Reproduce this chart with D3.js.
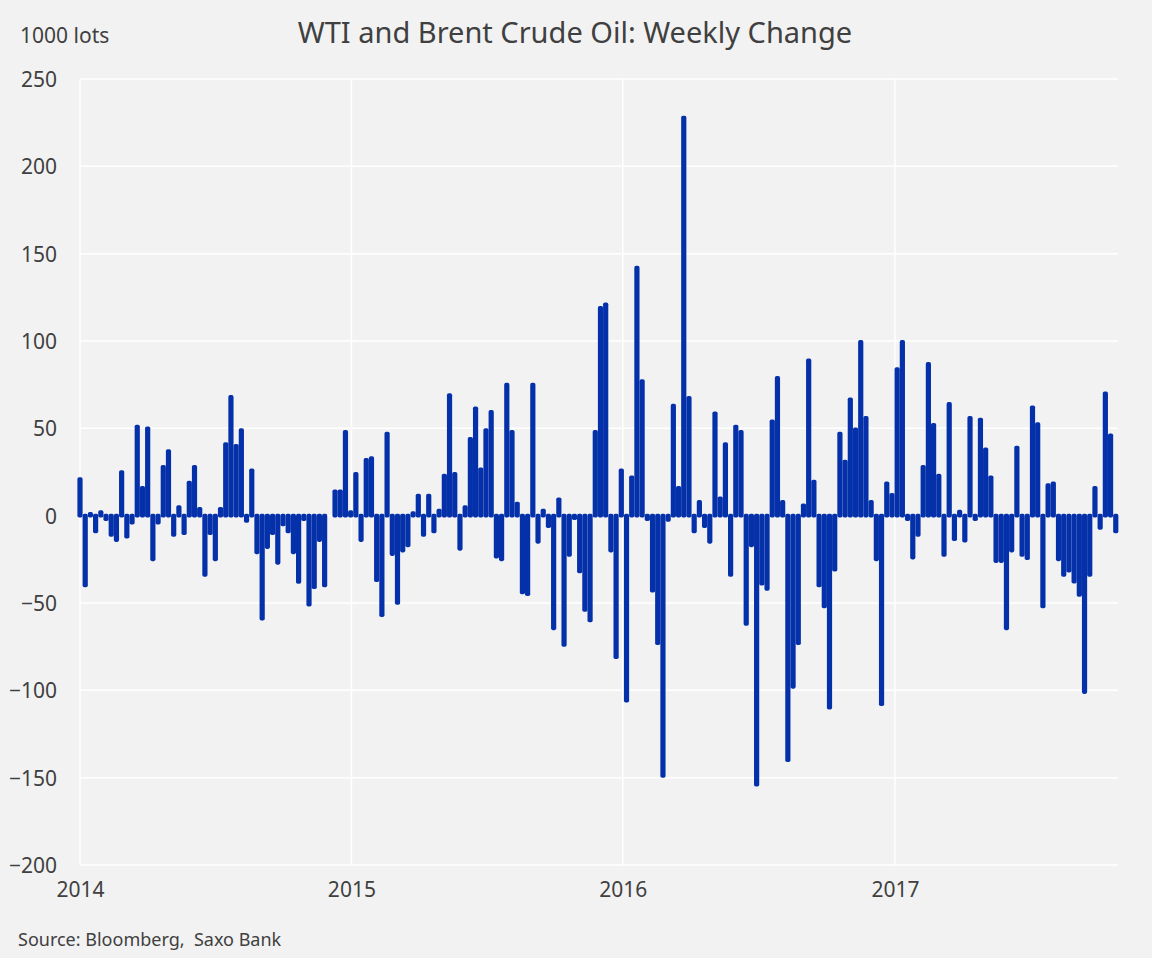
<!DOCTYPE html>
<html>
<head>
<meta charset="utf-8">
<script src="https://cdn.jsdelivr.net/npm/d3@7"></script>
<style>
  html, body { margin: 0; padding: 0; background: #f2f2f2; }
  svg { display: block; }
  text { font-family: "Noto Sans", "Open Sans", sans-serif; fill: #404040; white-space: pre; }
</style>
</head>
<body>
<script>
// ---- data ----
const title = "WTI and Brent Crude Oil: Weekly Change";
const unitLabel = "1000 lots";
const sourceText = "Source: Bloomberg,  Saxo Bank";
const firstWeek = "2014-01-01";
const yTicks = [-200, -150, -100, -50, 0, 50, 100, 150, 200, 250];
const yearTicks = ["2014", "2015", "2016", "2017"];
const weeklyChange = [
  21, -40, 1, -9, 2, -2, -11, -14, 25, -12,
  -4, 51, 16, 50, -25, -4, 28, 37, -11, 5,
  -10, 19, 28, 4, -34, -10, -25, 4, 41, 68,
  40, 49, -3, 26, -21, -59, -18, -10, -27, -5,
  -9, -21, -38, -2, -51, -41, -14, -40, 0, 14,
  14, 48, 2, 24, -14, 32, 33, -37, -57, 47,
  -22, -50, -20, -17, 1.5, 11.5, -11, 11.5, -9, 3,
  23, 69, 24, -19, 5, 44, 61.5, 26.5, 49, 59.5,
  -23.5, -25, 75, 48, 7, -44, -45, 75, -15, 3,
  -6, -64.5, 9.4, -74, -22.5, -1.5, -32, -54, -60, 48,
  119, 121, -20, -81, 26, -106, 22, 142, 77, -2,
  -43, -73, -149, -2.5, 63, 16, 228, 67.5, -9, 8,
  -6, -15, 58.6, 10, 41, -34, 51, 48, -62, -17,
  -154, -39, -42, 54, 79, 8, -140, -98, -73, 6,
  89, 19.5, -40, -52, -110, -31, 47, 31, 66.6, 49.4,
  99.6, 56, 8, -25, -108, 18.5, 12, 84, 99.6, -2,
  -24, -11, 28, 87, 52, 23, -22.5, 64, -13.5, 2.3,
  -14.3, 56, -2, 55, 38, 22, -26, -26, -64.5, -20,
  39, -22.5, -24.4, 62, 52.5, -52, 17.6, 18.5, -25, -34,
  -31.5, -37.8, -45.4, -101, -34, 16, -7, 70, 46, -9
];

// ---- layout ----
const W = 1152, H = 958;
const plotL = 80, plotR = 1118, plotT = 79, plotB = 865;
const barColor = "#0430a9";
const fontStack = '"Noto Sans", "Open Sans", sans-serif';

const parse = d3.timeParse("%Y-%m-%d");
const start = parse(firstWeek);
const dates = weeklyChange.map((v, i) => d3.timeDay.offset(start, i * 7));

const x = d3.scaleTime()
  .domain([parse("2014-01-01"), parse("2017-10-28")])
  .range([plotL, plotR]);
const y = d3.scaleLinear().domain([-200, 250]).range([plotB, plotT]);

const svg = d3.select("body").append("svg").attr("width", W).attr("height", H);
svg.append("rect").attr("width", W).attr("height", H).attr("fill", "#f2f2f2");

// gridlines
const grid = svg.append("g");
grid.selectAll("line.h").data(yTicks).join("line")
  .attr("x1", plotL).attr("x2", plotR)
  .attr("y1", d => y(d)).attr("y2", d => y(d))
  .attr("stroke", "#ffffff").attr("stroke-width", 1.5);
grid.selectAll("line.v").data(yearTicks).join("line")
  .attr("x1", d => x(parse(d + "-01-01"))).attr("x2", d => x(parse(d + "-01-01")))
  .attr("y1", plotT).attr("y2", plotB)
  .attr("stroke", "#ffffff").attr("stroke-width", 1.5);

// bars
const bw = 1.6, sw = 3.6;
svg.append("g").selectAll("rect").data(weeklyChange).join("rect")
  .attr("x", (d, i) => x(dates[i]) - bw / 2)
  .attr("width", bw)
  .attr("y", d => y(Math.max(0, d)))
  .attr("height", d => Math.abs(y(d) - y(0)))
  .attr("fill", barColor)
  .attr("stroke", barColor)
  .attr("stroke-width", sw)
  .attr("stroke-linejoin", "round");

// y axis labels
const yAxis = d3.axisLeft(y).tickValues(yTicks).tickSize(0).tickPadding(0);
const gy = svg.append("g").attr("transform", `translate(57,0)`).call(yAxis);
gy.select(".domain").remove();
gy.selectAll("text").attr("font-size", 21).attr("fill", "#404040")
  .attr("font-family", fontStack).attr("dy", "0.35em");

// x axis labels
const xAxis = d3.axisBottom(x).tickValues(yearTicks.map(d => parse(d + "-01-01")))
  .tickFormat(d3.timeFormat("%Y")).tickSize(0).tickPadding(0);
const gx = svg.append("g").attr("transform", `translate(0,882)`).call(xAxis);
gx.select(".domain").remove();
gx.selectAll("text").attr("font-size", 21).attr("fill", "#404040")
  .attr("font-family", fontStack);

// title and labels
svg.append("text").attr("x", 575).attr("y", 43).attr("text-anchor", "middle")
  .attr("font-size", 29).text(title);
svg.append("text").attr("x", 20).attr("y", 43).attr("font-size", 21).text(unitLabel);
svg.append("text").attr("x", 18).attr("y", 946).attr("font-size", 18)
  .attr("xml:space", "preserve").text(sourceText);
</script>
</body>
</html>
